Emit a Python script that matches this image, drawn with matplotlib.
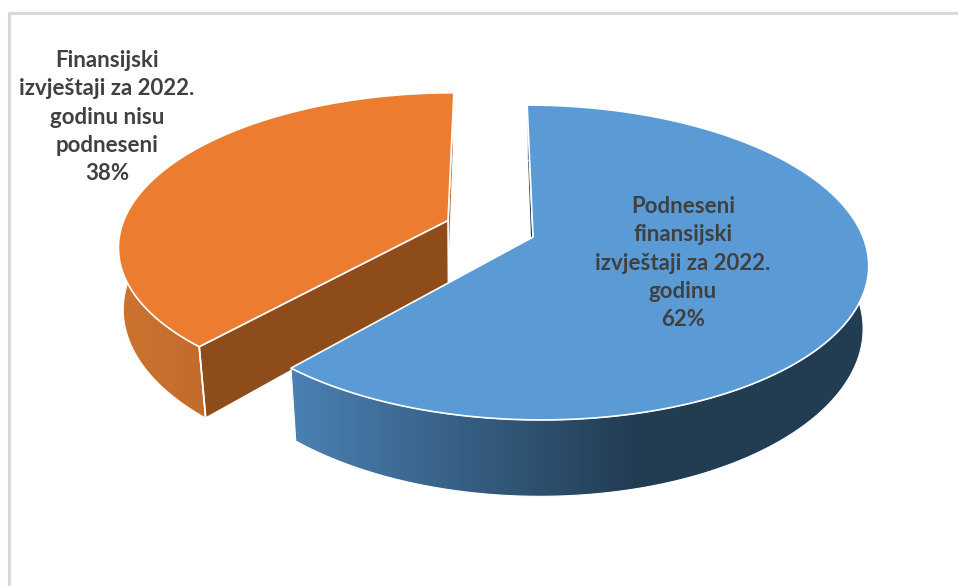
import numpy as np
import matplotlib
matplotlib.use('Agg')
import matplotlib.pyplot as plt
from matplotlib.colors import LinearSegmentedColormap
from matplotlib.patches import Polygon

labels = ['Podneseni\nfinansijski\nizvještaji za 2022.\ngodinu',
          'Finansijski\nizvještaji za 2022.\ngodinu nisu\npodneseni']
shares = [62, 38]

# projection of the tilted disc, in pixels
cx, cy = 490.5, 237
rx, ry = 330, 153.3
persp = 0.162
depth = 64
angle_fix = -1.9  # perspective in the original eats a bit of the split angle


def project(u, v, base=False):
    w = 1 - persp * v
    x = rx * u / w
    if base:
        # the base narrows towards the centre, more at the front
        shrink = 0.988 - 0.016 * v
        return cx + x * shrink, cy + (ry * v + depth) / w
    return cx + x, cy + ry * v / w


def rim(a0, a1, u0, v0, base=False):
    t = np.radians(np.linspace(a0, a1, 240))
    return project(u0 + np.sin(t), v0 - np.cos(t), base)


def wall(ax, a0, a1, u0, v0, c1, c2, x1, x2):
    xt, yt = rim(a0, a1, u0, v0)
    xb, yb = rim(a0, a1, u0, v0, True)
    pts = np.r_[np.c_[xt, yt], np.c_[xb, yb][::-1]]
    patch = Polygon(pts, fc='none', ec='none', transform=ax.transData)
    ax.add_patch(patch)
    cmap = LinearSegmentedColormap.from_list('w', [c1, c2])
    grad = np.clip((np.arange(958) + 0.5 - x1) / (x2 - x1), 0, 1).reshape(1, -1)
    im = ax.imshow(grad, cmap=cmap, extent=[0, 958, 586, 0], aspect='auto', zorder=patch.get_zorder())
    im.set_clip_path(patch)
    ax.add_patch(Polygon(pts, fc='none', ec='white', lw=0.8))


def cut_face(ax, a, u0, v0, color):
    x0, y0 = project(u0, v0)
    x1, y1 = project(u0, v0, True)
    xt, yt = rim(a, a, u0, v0)
    xb, yb = rim(a, a, u0, v0, True)
    ax.add_patch(Polygon([(x0, y0), (xt[0], yt[0]), (xb[0], yb[0]), (x1, y1)],
                         fc=color, ec='white', lw=1.2))


fig = plt.figure(figsize=(9.58, 5.86), dpi=100)
ax = fig.add_axes([0, 0, 1, 1])
ax.axis('off')

# chart frame
ax.plot([9, 9, 958], [586, 13, 13], color='#d9d9d9', lw=2.2)

end_blue = 360 * shares[0] / sum(shares) + angle_fix

# orange slice, moved out to the upper left
ou, ov = -0.131, -0.11
wall(ax, end_blue, 360, ou, ov, '#cc7330', '#b5622a', 120, 300)
cut_face(ax, 360, ou, ov, '#b9652a')
cut_face(ax, end_blue, ou, ov, '#8f4c1b')
xt, yt = rim(end_blue, 360, ou, ov)
ox, oy = project(ou, ov)
ax.add_patch(Polygon(np.r_[[(ox, oy)], np.c_[xt, yt]], fc='#ec7c30', ec='white', lw=1.2))
xb, yb = rim(end_blue, end_blue, ou, ov, True)
ax.plot([xt[0], xb[0]], [yt[0], yb[0]], color='white', lw=1.2)

# blue slice
bu, bv = 0.129, 0.0
cut_face(ax, 0, bu, bv, '#223c52')
wall(ax, 0, end_blue, bu, bv, '#4a80b2', '#223c52', 295, 640)
xt, yt = rim(0, end_blue, bu, bv)
bx, by = project(bu, bv)
ax.add_patch(Polygon(np.r_[[(bx, by)], np.c_[xt, yt]], fc='#5b9bd5', ec='white', lw=1.2))

ax.text(683, 263, f'{labels[0]}\n{shares[0]}%', ha='center', va='center', ma='center',
        family='Lato', weight='bold', fontsize=16, color='#404040', linespacing=1.43)
ax.text(107, 117, f'{labels[1]}\n{shares[1]}%', ha='center', va='center', ma='center',
        family='Lato', weight='bold', fontsize=16, color='#404040', linespacing=1.43)

ax.set_xlim(0, 958)
ax.set_ylim(586, 0)

fig.savefig('out.png', dpi=100)
